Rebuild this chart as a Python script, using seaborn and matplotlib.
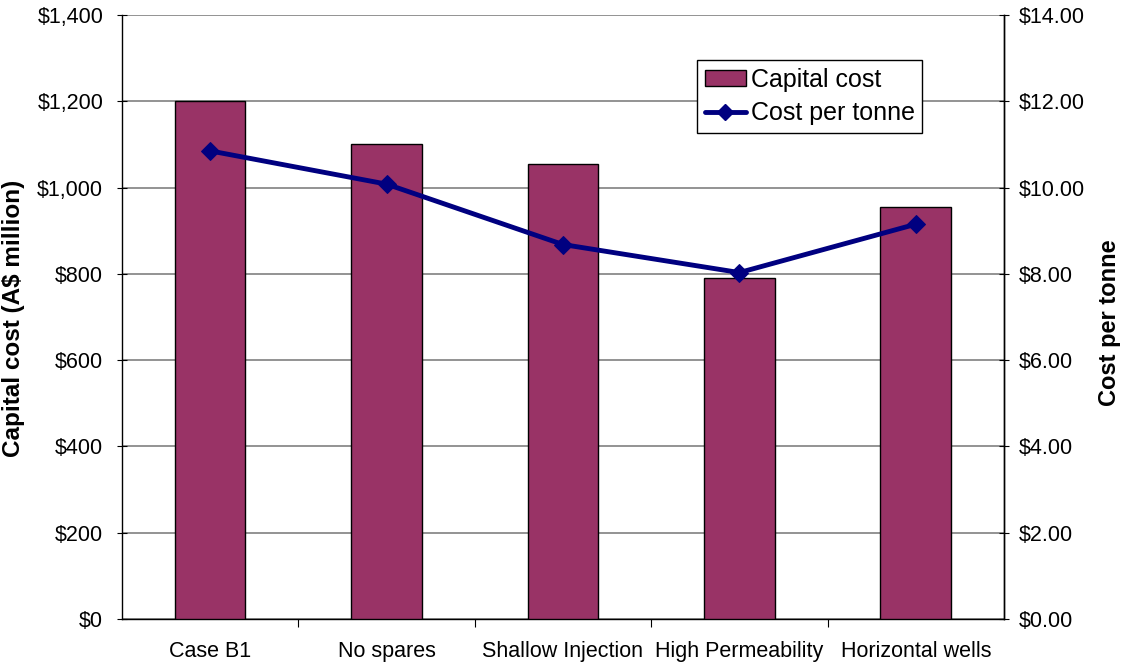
import numpy as np
import pandas as pd
import matplotlib
matplotlib.use("Agg")
import matplotlib.pyplot as plt
import seaborn as sns
from matplotlib.ticker import FuncFormatter, FixedLocator
from matplotlib.patches import Patch
from matplotlib.lines import Line2D

categories = ["Case B1", "No spares", "Shallow Injection", "High Permeability", "Horizontal wells"]
capital_cost = [1200, 1100, 1055, 790, 955]          # A$ million
cost_per_tonne = [10.85, 10.08, 8.68, 8.03, 9.15]    # A$ per tonne

bar_color = "#993366"
line_color = "#000080"

sns.set_theme(style="white")
plt.rcParams["font.family"] = ["Liberation Sans", "DejaVu Sans"]
plt.rcParams.update({"text.color": "black", "axes.labelcolor": "black",
                     "xtick.color": "black", "ytick.color": "black"})

fig = plt.figure(figsize=(11.23, 6.64), dpi=100)
ax = fig.add_axes([0.1086, 0.0678, 0.7854, 0.9096])

df = pd.DataFrame({"case": categories, "capital": capital_cost, "tonne": cost_per_tonne})

sns.barplot(data=df, x="case", y="capital", color=bar_color, saturation=1,
            edgecolor="black", linewidth=1.0, width=0.4, ax=ax, zorder=3)
ax.set_xlim(-0.5, len(categories) - 0.5)
ax.set_ylim(0, 1400)
ax.set_yticks(np.arange(0, 1401, 200))
ax.yaxis.set_major_formatter(FuncFormatter(lambda v, p: f"${v:,.0f}"))
ax.grid(axis="y", color="#808080", linewidth=1.2, zorder=0)
ax.set_axisbelow(True)

ax.set_xlabel("")
ax.set_ylabel("Capital cost (A$ million)", fontsize=17.5, fontweight="bold", va="center")
ax.yaxis.set_label_coords(-0.1225, 0.497)
ax.tick_params(axis="x", which="major", length=0, labelsize=15.5, pad=16)
ax.xaxis.set_minor_locator(FixedLocator(np.arange(0.5, len(categories) - 0.5, 1.0)))
ax.tick_params(axis="x", which="minor", length=6, width=0.8, direction="out", color="black", bottom=True)
ax.tick_params(axis="y", length=7, width=0.8, direction="inout", labelsize=15.5, pad=10,
               color="black", left=True)

ax.spines["top"].set_visible(False)
for side in ["left", "bottom", "right"]:
    ax.spines[side].set_color("black")
    ax.spines[side].set_linewidth(1.0)

ax2 = ax.twinx()
sns.lineplot(x=np.arange(len(categories)), y=df["tonne"], ax=ax2, color=line_color,
             linewidth=3.5, marker="D", markersize=9, markeredgecolor=line_color, zorder=5)
ax2.set_ylim(0, 14)
ax2.set_yticks(np.arange(0, 14.01, 2))
ax2.yaxis.set_major_formatter(FuncFormatter(lambda v, p: f"${v:,.2f}"))
ax2.set_ylabel("Cost per tonne", fontsize=17, fontweight="bold", va="center", rotation=90)
ax2.yaxis.set_label_coords(1.12, 0.49)
ax2.tick_params(axis="y", length=7, width=0.8, direction="inout", labelsize=15.5, pad=7,
                color="black", right=True)
ax2.spines["top"].set_visible(False)
ax2.spines["right"].set_color("black")
ax2.spines["right"].set_linewidth(1.0)
ax2.spines["left"].set_visible(False)
ax2.spines["bottom"].set_visible(False)
ax2.grid(False)

handles = [Patch(facecolor=bar_color, edgecolor="black", linewidth=1.0),
           Line2D([0], [0], color=line_color, linewidth=3.5, marker="D", markersize=8)]
leg = ax2.legend(handles, ["Capital cost", "Cost per tonne"], loc="upper left",
                 bbox_to_anchor=(0.652, 0.925), fontsize=18, frameon=True, fancybox=False,
                 edgecolor="black", framealpha=1, borderpad=0.3, handlelength=1.65,
                 handleheight=0.6, handletextpad=0.2, labelspacing=0.38, borderaxespad=0)
leg.get_frame().set_linewidth(1.0)

fig.savefig("out.png", dpi=100)
